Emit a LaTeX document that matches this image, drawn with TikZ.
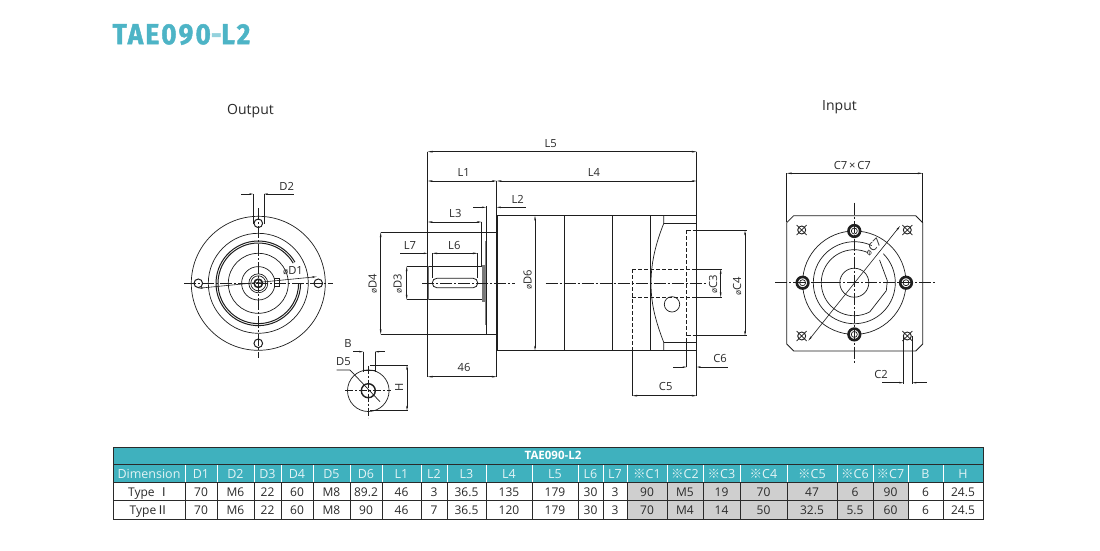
\documentclass[tikz,border=0pt]{standalone}
\usepackage{fontspec}
\setmainfont{Open Sans}
\newfontfamily\cjk{Noto Sans CJK SC}
\newfontfamily\titlefont[LetterSpace=8,FakeBold=1.5,FakeStretch=0.9]{Fira Sans Bold}
\usetikzlibrary{arrows.meta}
\definecolor{teal1}{HTML}{3FB1BE}
\definecolor{titlec}{HTML}{4DB4C6}
\definecolor{cellgrey}{HTML}{CFCFCF}
\definecolor{ink}{HTML}{1E1E1E}
\definecolor{gridc}{HTML}{2A2A2A}
\definecolor{txt}{HTML}{2A2A2A}
\tikzset{
  thin1/.style={draw=ink,line width=0.7pt},
  thick1/.style={draw=ink,line width=1.1pt},
  center1/.style={draw=ink,line width=0.55pt,dash pattern=on 12pt off 2pt on 2pt off 2pt},
  hidden1/.style={draw=ink,line width=0.65pt,dash pattern=on 4pt off 2pt},
  dim1/.style={draw=ink,line width=0.6pt,{Stealth[length=5pt,width=1.8pt]}-{Stealth[length=5pt,width=1.8pt]}},
  halfdim/.style={draw=ink,line width=0.6pt,{Stealth[length=4pt,width=1.6pt]}-},
  lab/.style={font=\fontsize{11.2}{11.2}\selectfont,text=txt,inner sep=0pt},
  head/.style={font=\fontsize{14}{14}\selectfont,text=txt,inner sep=0pt},
  cellt/.style={font=\fontsize{12}{12}\selectfont,text=txt,inner sep=0pt,anchor=base},
  cellh/.style={font=\fontsize{12.5}{12.5}\selectfont,text=white!85!teal1,inner sep=0pt,anchor=base},
}
\newcommand{\km}{{\cjk ※}}
\newcommand{\tI}{{\cjk Ⅰ}}
\newcommand{\tII}{{\cjk Ⅱ}}
\newcommand{\dia}{{\fontsize{8.5}{8.5}\selectfont ø}}
\begin{document}
\begin{tikzpicture}[x=1pt,y=-1pt]
\useasboundingbox (0,0) rectangle (1100,550);
\fill[white] (0,0) rectangle (1100,550);
\node[inner sep=0pt,anchor=west,text=titlec,font=\titlefont\fontsize{29}{29}\selectfont] (title) at (112.5,34.5) {TAE090{\color{titlec!60}-}L2};
\node[head] (out) at (250.5,111) {Output};
\node[head] (in) at (839.5,107) {Input};

% ---------- Output view
\begin{scope}[shift={(258.3,283.3)}]
  \draw[thin1] (0,0) circle (67) (0,0) circle (50) (0,0) circle (30) (0,0) circle (16.7) (0,0) circle (9.5);
  \draw[thin1,line width=1pt] (-30:42.3) arc (-30:-360:42.3);
  \draw[thin1,line width=1pt] (-30:40.3) arc (-30:-360:40.3);
  \draw[thin1] (0,0) circle (7.5);
  \draw[thick1,line width=1.5pt] (0,0) circle (4.2);
  \draw[thin1,fill=white] (16,-5) rectangle (20.7,3);
  \foreach \p/\q in {-60/0,60/0,0/-60,0/60}{
    \draw[thick1,line width=1pt,fill=white] (\p,\q) circle (4.3);
  }
  \draw[center1] (-74,0) -- (75,0);
  \draw[center1] (0,-75) -- (0,75);
\end{scope}
\draw[dim1] (198.3,288.3) -- (316.7,276.7);
\node[lab] (d1) at (293,271) {\dia D1};
\draw[thin1] (253.3,194) -- (253.3,224) (264,194) -- (264,224);
\draw[halfdim] (253.3,194) -- (240.7,194);
\draw[halfdim] (264,194) -- (294,194);
\node[lab] (d2) at (286.7,186) {D2};

% ---------- Key view
\begin{scope}[shift={(368.3,390.7)}]
  \draw[thin1] (0,0) circle (20.8);
  \draw[thick1,line width=1.4pt] (0,0) circle (7);
  \draw[center1,dash pattern=on 8pt off 2pt on 2pt off 2pt] (-23,0) -- (23,0);
  \draw[center1,dash pattern=on 8pt off 2pt on 2pt off 2pt] (0,-25) -- (0,27);
\end{scope}
\draw[thin1] (363.3,351.7) -- (363.3,372) (375,351.7) -- (375,372);
\draw[thin1] (363.3,370) -- (375,370);
\draw[halfdim] (363.3,351.7) -- (353,351.7);
\draw[halfdim] (375,351.7) -- (385,351.7);
\node[lab] (b) at (348,343) {B};
\node[lab] (d5) at (343.5,361.7) {D5};
\draw[thin1] (336.7,370) -- (350,370) -- (380,401.7);
\draw[thin1] (370,365) -- (408,365) (370,410.7) -- (408,410.7);
\draw[dim1] (407,365) -- (407,410.7);
\node[lab,rotate=90] (h) at (399,387.7) {H};

% ---------- Side view
\draw[thin1] (427.7,151.7) -- (427.7,376.7) (496.7,181) -- (496.7,376.7) (696.7,151.7) -- (696.7,395.7);
\draw[dim1] (427.7,151.7) -- (696.7,151.7);
\node[lab] (l5) at (550.7,143.3) {L5};
\draw[dim1] (427.7,181) -- (496.7,181);
\draw[dim1] (496.7,181) -- (696.7,181);
\node[lab] (l1) at (463.7,172.3) {L1};
\node[lab] (l4) at (594,172.3) {L4};
\draw[halfdim] (486,207.3) -- (472.7,207.3);
\draw[halfdim] (496.7,207.3) -- (525.7,207.3);
\node[lab] (l2) at (517.7,199) {L2};
\draw[dim1] (427.7,222) -- (481.7,222);
\node[lab] (l3) at (455.3,213.3) {L3};
\draw[thin1] (481.7,222) -- (481.7,266.3);
% flange & shaft
\draw[thin1] (380.7,232.3) -- (497.3,232.3) (380.7,334.3) -- (497.3,334.3);
\draw[thick1] (486.7,206) -- (486.7,334.3);
\draw[thin1] (406.7,266.3) -- (483,266.3) (406.7,299.7) -- (483,299.7);
\draw[draw=ink!65,line width=1.6pt] (428.5,266.3) -- (428.5,299.7);
\draw[draw=ink!60,line width=2.6pt] (483.5,264.5) -- (483.5,301.5);
\draw[draw=ink!55,line width=1.3pt] (485.6,241) -- (485.6,325);
\draw[thin1,rounded corners=4.5pt,line width=0.8pt] (432.3,278.3) rectangle (477.7,287.7);
\draw[thin1] (432.3,253.3) -- (432.3,278.3) (477.7,253.3) -- (477.7,278.3);
\draw[halfdim] (427.7,253.3) -- (400,253.3);
\draw[dim1] (432.3,253.3) -- (477.7,253.3);
\node[lab] (l7) at (410,245) {L7};
\node[lab] (l6) at (454.3,245) {L6};
\draw[dim1] (380.7,232.3) -- (380.7,334.3);
\node[lab,rotate=90] (d4) at (372.7,284) {\dia D4};
\draw[dim1] (406.7,266.3) -- (406.7,299.7);
\node[lab,rotate=90] (d3) at (397.7,284) {\dia D3};
% body
\draw[thick1,line width=0.9pt] (497.3,215.7) rectangle (696.7,350.7);
\draw[thick1] (564.3,215.7) -- (564.3,350.7) (612.7,215.7) -- (612.7,350.7);
\draw[thin1] (650,215.7) -- (650,350.7);
\draw[thin1] (663.7,223.5) -- (696.7,223.5) (663.7,342.3) -- (696.7,342.3);
\draw[thin1] (663.7,215.7) -- (663.7,223.5) .. controls (656,243) and (651,262) .. (651,283.3) .. controls (651,305) and (656,322) .. (663.7,342.3) -- (663.7,350.7);
\draw[thin1] (672,304.3) circle (7.7);
\draw[dim1] (535,215.7) -- (535,350.7);
\node[lab,rotate=90,fill=white,inner sep=1pt] (d6) at (527.7,280) {\dia D6};
\draw[center1] (422.3,283.3) -- (515,283.3);
\draw[center1] (545.7,283.3) -- (706.5,283.3);
\draw[dim1] (427.7,376.7) -- (496.7,376.7);
\node[lab] (n46) at (464,367.7) {46};
% input bore
\draw[hidden1] (632.3,269) -- (696.7,269) (632.3,297.3) -- (696.7,297.3) (632.3,269) -- (632.3,350.7) (686.7,230.3) -- (696.7,230.3) (686.7,335.7) -- (696.7,335.7) (686.7,230.3) -- (686.7,342);
\draw[thin1] (696.7,269) -- (722,269) (696.7,297.3) -- (722,297.3) (696.7,230.3) -- (747,230.3) (696.7,335.7) -- (747,335.7);
\draw[thin1] (632.3,350.7) -- (632.3,395.7) (686.7,342) -- (686.7,367);
\draw[dim1] (720.7,269) -- (720.7,297.3);
\node[lab,rotate=90] (c3) at (713.3,284) {\dia C3};
\draw[dim1] (745,230.3) -- (745,335.7);
\node[lab,rotate=90] (c4) at (737.3,286) {\dia C4};
\draw[dim1] (632.3,395.7) -- (696.7,395.7);
\node[lab] (c5) at (665.7,386.7) {C5};
\draw[halfdim] (686.7,367) -- (672.7,367);
\draw[halfdim] (696.7,367) -- (727.7,367);
\node[lab] (c6) at (720,358.3) {C6};

% ---------- Input view
\draw[thin1,line width=0.8pt] (793.7,215.7) -- (915.7,215.7) -- (922.7,222.7) -- (922.7,344) -- (915.7,351) -- (793.7,351) -- (786.7,344) -- (786.7,222.7) -- cycle;
\draw[thin1] (786.7,173.3) -- (786.7,222) (922.7,173.3) -- (922.7,222);
\draw[dim1] (786.7,173.3) -- (922.7,173.3);
\node[lab] (c7c7) at (852.3,165) {C7\,×\,C7};
\begin{scope}[shift={(854.3,282.7)}]
  \draw[thin1] (0,0) circle (51.7);
  \draw[thin1] (-45:41) arc (-45:295:41);
  \draw[thin1] (-66:33) arc (-66:-298:33) -- (32,8) -- (33,-2) -- (-42:34);
  \draw[thin1] (0,0) circle (14.5);
  \draw[thick1,line width=1.5pt] (-34,0) -- (-15,0);
  \draw[thick1,line width=1.2pt] (15,0) -- (22,0);
  \foreach \p/\q in {-51.7/0,51.7/0,0/-51.7,0/51.7}{
    \draw[draw=ink,line width=2.6pt,fill=white] (\p,\q) circle (5.8);
    \draw[thin1] (\p,\q) circle (3);
  }
  \foreach \p/\q in {-52.6/-52.7,53/-52.7,-52.6/53.3,53/53.3}{
    \draw[thin1,line width=0.9pt] (\p,\q) circle (4);
    \draw[thin1] (\p-5,\q-5) -- (\p+5,\q+5) (\p-5,\q+5) -- (\p+5,\q-5);
  }
  \draw[center1] (-79.3,0) -- (80.7,0);
  \draw[center1] (0,-80) -- (0,80.6);
\end{scope}
\draw[dim1] (808.3,340.7) -- (900,226);
\node[lab,rotate=45] (c7) at (873,247) {\dia C7};
\draw[thin1] (903.3,336) -- (903.3,384) (912.3,336) -- (912.3,384);
\draw[halfdim] (903.3,382.7) -- (881.7,382.7);
\draw[halfdim] (912.3,382.7) -- (927.3,382.7);
\node[lab] (c2) at (881,374.3) {C2};

% ---------- Table
\fill[teal1] (113,447) rectangle (983,482.7);
\fill[cellgrey] (627,482.7) rectangle (908,519);
\node[inner sep=0pt,text=white,font=\fontsize{11.5}{11.5}\selectfont\bfseries] (ttl) at (553,455.7) {TAE090-L2};
\foreach \a/\b/\h/\p/\q in {
 113/185/Dimension/Type \tI/Type\tII,
 185/217/D1/70/70, 217/254/D2/M6/M6, 254/281/D3/22/22, 281/313/D4/60/60,
 313/350/D5/M8/M8, 350/382/D6/89.2/90, 382/421/L1/46/46, 421/447/L2/3/7,
 447/486/L3/36.5/36.5, 486/532/L4/135/120, 532/578/L5/179/179, 578/603/L6/30/30,
 603/627/L7/3/3, 627/667/\km C1/90/70, 667/703/\km C2/M5/M4, 703/740/\km C3/19/14,
 740/787/\km C4/70/50, 787/837/\km C5/47/32.5, 837/873/\km C6/6/5.5, 873/908/\km C7/90/60,
 908/943/B/6/6, 943/983/H/24.5/24.5}{
  \node[cellh] at ({(\a+\b)/2},478) {\h};
  \node[cellt] at ({(\a+\b)/2},496.3) {\p};
  \node[cellt] at ({(\a+\b)/2},514.6) {\q};
  \draw[gridc,line width=0.9pt] (\b,482.7) -- (\b,519);
  \draw[white,line width=0.6pt] (\b,464.5) -- (\b,482.7);
}
\draw[gridc,line width=1pt] (113,447) rectangle (983,519);
\draw[gridc,line width=0.9pt] (113,464.3) -- (983,464.3) (113,482.7) -- (983,482.7) (113,500.8) -- (983,500.8);
\draw[gridc,line width=0.9pt] (113,482.7) -- (113,519);
\end{tikzpicture}
\end{document}
